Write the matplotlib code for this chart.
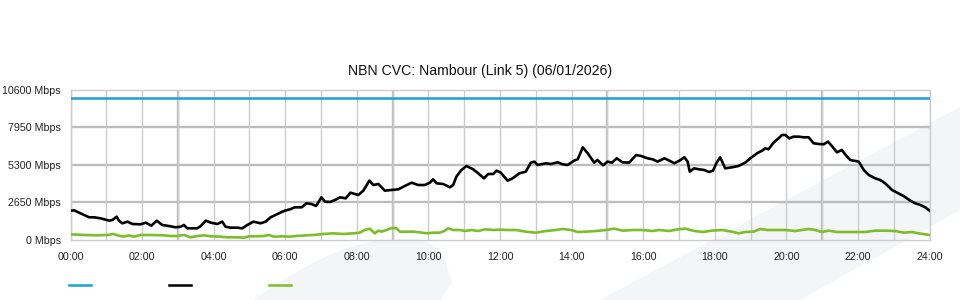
import matplotlib
matplotlib.use("Agg")
import matplotlib.pyplot as plt
from matplotlib.patches import Polygon
from matplotlib.lines import Line2D

plt.rcParams['font.family'] = ['Liberation Sans', 'DejaVu Sans']

title = "NBN CVC: Nambour (Link 5) (06/01/2026)"
y_ticks = [0, 2650, 5300, 7950, 10600]
y_tick_labels = ["0 Mbps", "2650 Mbps", "5300 Mbps", "7950 Mbps", "10600 Mbps"]
x_ticks = list(range(0, 25, 2))
x_tick_labels = ["%02d:00" % h for h in x_ticks]

capacity_hours = [0, 24]
capacity_mbps = [10000, 10000]

traffic_hours = [0.00, 0.10, 0.24, 0.38, 0.52, 0.66, 0.84, 1.08, 1.17, 1.29, 1.35, 1.45, 1.59,
                 1.73, 1.96, 2.10, 2.26, 2.41, 2.56, 2.75, 2.94, 3.08, 3.17, 3.26, 3.54, 3.64,
                 3.78, 3.92, 4.10, 4.24, 4.33, 4.47, 4.66, 4.80, 4.94, 5.11, 5.31, 5.45, 5.59,
                 5.78, 5.92, 5.99, 6.13, 6.27, 6.46, 6.59, 6.73, 6.86, 7.01, 7.11, 7.25, 7.39,
                 7.53, 7.69, 7.82, 7.94, 8.04, 8.18, 8.35, 8.46, 8.60, 8.78, 8.97, 9.16, 9.34,
                 9.53, 9.71, 9.90, 10.04, 10.13, 10.23, 10.41, 10.60, 10.69, 10.78, 10.92, 11.06,
                 11.25, 11.39, 11.55, 11.67, 11.81, 11.90, 12.02, 12.21, 12.35, 12.54, 12.72,
                 12.86, 12.96, 13.05, 13.28, 13.42, 13.61, 13.75, 13.89, 14.07, 14.17, 14.31,
                 14.45, 14.63, 14.72, 14.88, 15.00, 15.13, 15.26, 15.42, 15.61, 15.80, 15.94,
                 16.12, 16.26, 16.40, 16.59, 16.73, 16.87, 17.01, 17.15, 17.24, 17.30, 17.42,
                 17.56, 17.70, 17.84, 17.95, 18.05, 18.15, 18.29, 18.48, 18.66, 18.85, 18.99,
                 19.18, 19.32, 19.41, 19.50, 19.64, 19.78, 19.88, 19.97, 20.08, 20.20, 20.34,
                 20.48, 20.62, 20.76, 20.90, 21.04, 21.16, 21.27, 21.41, 21.55, 21.64, 21.78,
                 21.92, 22.02, 22.16, 22.30, 22.48, 22.62, 22.76, 22.95, 23.13, 23.27, 23.46,
                 23.60, 23.74, 23.88, 24.00]
traffic_mbps = [2066, 2090, 1927, 1762, 1600, 1600, 1528, 1363, 1410, 1645, 1363, 1175, 1293,
                1128, 1105, 1222, 1011, 1363, 1058, 987, 893, 940, 1058, 823, 823, 987,
                1363, 1222, 1128, 1293, 940, 870, 870, 823, 1058, 1293, 1175, 1293, 1600,
                1833, 1997, 2066, 2162, 2303, 2303, 2585, 2538, 2397, 3008, 2702, 2679, 2820,
                3008, 2937, 3337, 3243, 3172, 3478, 4183, 3877, 3948, 3478, 3525, 3572, 3807,
                4042, 3877, 3877, 4042, 4277, 3995, 3948, 3713, 3877, 4465, 4935, 5217,
                4982, 4700, 4347, 4653, 4653, 4888, 4747, 4183, 4347, 4700, 4818,
                5452, 5523, 5287, 5405, 5358, 5476, 5334, 5287, 5593, 5688, 6533,
                6110, 5452, 5640, 5264, 5523, 5452, 5758, 5476, 5452, 5993, 5922,
                5758, 5688, 5523, 5758, 5593, 5405, 5593, 5828, 5523, 4818, 5052,
                4982, 4935, 4794, 4888, 5452, 5828, 5052, 5123, 5217, 5452, 5758,
                6110, 6298, 6462, 6392, 6862, 7167, 7403, 7403, 7167, 7285, 7285,
                7238, 7238, 6815, 6768, 6744, 6933, 6627, 6180, 6345, 6039, 5640,
                5570, 5523, 4935, 4583, 4347, 4230, 3995, 3525, 3290, 3102, 2773,
                2585, 2468, 2303, 2068]

upload_hours = [0.00, 0.38, 0.75, 1.03, 1.20, 1.35, 1.49, 1.63, 1.77, 1.96, 2.24, 2.61, 2.80,
                2.98, 3.17, 3.36, 3.54, 3.73, 3.92, 4.19, 4.38, 4.66, 4.85, 4.99, 5.22, 5.40,
                5.54, 5.68, 5.92, 6.13, 6.32, 6.59, 6.78, 7.06, 7.34, 7.62, 7.90, 8.08, 8.22,
                8.36, 8.50, 8.60, 8.69, 8.83, 8.97, 9.11, 9.20, 9.39, 9.57, 9.76, 9.95, 10.13,
                10.32, 10.46, 10.55, 10.69, 10.88, 11.02, 11.20, 11.39, 11.58, 11.81, 12.00,
                12.16, 12.44, 12.72, 13.00, 13.28, 13.56, 13.75, 13.98, 14.17, 14.40, 14.68,
                14.96, 15.19, 15.42, 15.70, 15.98, 16.26, 16.45, 16.73, 16.96, 17.19, 17.38,
                17.66, 17.92, 18.20, 18.48, 18.66, 18.85, 19.08, 19.27, 19.46, 19.69, 19.97,
                20.25, 20.43, 20.62, 20.81, 20.99, 21.18, 21.41, 21.64, 21.92, 22.20, 22.48,
                22.76, 23.04, 23.27, 23.51, 23.69, 23.88, 24.00]
upload_mbps = [400, 353, 329, 353, 423, 306, 235, 329, 235, 353, 353, 329, 282,
               282, 353, 188, 282, 329, 259, 235, 188, 188, 165, 259, 259, 282,
               353, 235, 259, 235, 282, 329, 353, 423, 470, 423, 470, 517, 705,
               799, 470, 658, 587, 705, 846, 822, 587, 587, 587, 540, 470, 517,
               517, 658, 822, 705, 705, 634, 705, 634, 752, 705, 730,
               705, 705, 587, 517, 634, 705, 776, 705, 564, 587, 634,
               705, 799, 658, 705, 705, 634, 705, 634, 752, 799, 658,
               564, 658, 705, 587, 470, 564, 587, 776, 705, 705, 705,
               634, 705, 776, 705, 564, 658, 564, 564, 564, 564, 658,
               658, 634, 517, 564, 470, 400, 353]

BLUE = "#1a9fdb"
BLACK = "#000000"
GREEN = "#7cbd2b"
SWOOSH = "#f4f5f7"

W, H = 960, 300
fig = plt.figure(figsize=(9.6, 3.0), dpi=100)
fig.patch.set_facecolor("white")

def px(pts):
    return [(x / W, 1 - y / H) for x, y in pts]

band = px([(600, 300), (960, 107), (960, 210), (800, 300)])
fig.patches.append(Polygon(band, closed=True, transform=fig.transFigure,
                           facecolor=SWOOSH, edgecolor="none", zorder=-5))
dome = px([(253, 300), (275, 285), (300, 270), (325, 257), (350, 247), (375, 241),
           (400, 238.5), (420, 239.5), (435, 246), (445, 260), (452, 283), (440, 300)])
fig.patches.append(Polygon(dome, closed=True, transform=fig.transFigure,
                           facecolor=SWOOSH, edgecolor="none", zorder=-5))

left, right = 70.5 / W, 929.6 / W
bottom, top = 1 - 240 / H, 1 - 89.6 / H
ax = fig.add_axes([left, bottom, right - left, top - bottom])
ax.set_zorder(1)
ax.set_facecolor("none")
ax.set_xlim(0, 24)
ax.set_ylim(0, 10600)

ax.set_xticks(x_ticks)
ax.set_xticklabels(x_tick_labels)
ax.set_xticks(range(0, 25), minor=True)
ax.set_yticks(y_ticks)
ax.set_yticklabels(y_tick_labels)
ax.tick_params(axis="both", which="both", length=0, labelsize=7.7, colors="#222222")
ax.tick_params(axis="x", pad=8.5)
ax.tick_params(axis="y", pad=7)

# grid
ax.grid(True, which="minor", axis="x", color="#cccccc", linewidth=1.0, zorder=1)
ax.grid(True, which="major", axis="x", color="#cccccc", linewidth=1.0, zorder=1)
for h in range(3, 24, 6):
    ax.axvline(h, color="#bdbdbd", linewidth=1.7, zorder=1)
for v in y_ticks[1:-1]:
    ax.axhline(v, color="#bdbdbd", linewidth=1.7, zorder=1)
for s in ax.spines.values():
    s.set_color("#cccccc")
    s.set_linewidth(1.0)

ax.plot(capacity_hours, capacity_mbps, color=BLUE, linewidth=1.8, zorder=3)
ax.plot(upload_hours, upload_mbps, color=GREEN, linewidth=1.9, zorder=3)
ax.plot(traffic_hours, traffic_mbps, color=BLACK, linewidth=1.9, zorder=4)

fig.text(480 / W, 1 - 71 / H, title, ha="center", va="center", fontsize=10.2, color="#111111")

# legend swatches (no labels in reference)
for x0, c in [(69, BLUE), (169, BLACK), (269, GREEN)]:
    fig.add_artist(Line2D([x0 / W, (x0 + 22) / W], [1 - 285 / H, 1 - 285 / H],
                          transform=fig.transFigure, color=c, linewidth=1.8))

fig.savefig("out.png", dpi=100)
